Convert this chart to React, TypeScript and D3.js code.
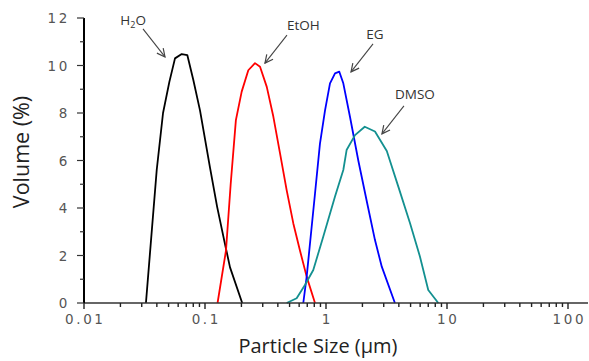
import * as d3 from "d3";

const h2oX = [0.0325, 0.0399, 0.045, 0.0507, 0.0565, 0.0642, 0.0714, 0.08, 0.091, 0.11, 0.126, 0.146, 0.161, 0.203];
const h2oY = [0, 5.6, 8.0, 9.3, 10.3, 10.48, 10.44, 9.4, 8.1, 5.7, 4.05, 2.5, 1.5, 0];

const etohX = [0.127, 0.149, 0.163, 0.18, 0.201, 0.228, 0.259, 0.285, 0.324, 0.367, 0.417, 0.473, 0.537, 0.61, 0.693, 0.811];
const etohY = [0, 2.2, 5.0, 7.7, 8.9, 9.8, 10.1, 9.95, 9.1, 7.85, 6.3, 4.75, 3.35, 2.2, 1.1, 0];

const egX = [0.649, 0.692, 0.761, 0.811, 0.891, 0.981, 1.079, 1.187, 1.288, 1.39, 1.578, 1.849, 2.19, 2.54, 2.89, 3.71];
const egY = [0, 1.1, 3.2, 4.6, 6.7, 8.1, 9.25, 9.67, 9.74, 9.25, 7.84, 6.0, 4.2, 2.65, 1.53, 0];

const dmsoX = [0.473, 0.572, 0.67, 0.785, 0.95, 1.187, 1.39, 1.48, 1.737, 2.09, 2.54, 3.18, 3.96, 4.95, 5.98, 7.0, 8.47];
const dmsoY = [0, 0.2, 0.76, 1.39, 2.8, 4.48, 5.6, 6.44, 7.07, 7.42, 7.22, 6.4, 4.9, 3.36, 1.95, 0.55, 0];

const series = [
  { name: "H2O", xs: h2oX, ys: h2oY, color: "#000000" },
  { name: "EtOH", xs: etohX, ys: etohY, color: "#ff0000" },
  { name: "EG", xs: egX, ys: egY, color: "#0000ff" },
  { name: "DMSO", xs: dmsoX, ys: dmsoY, color: "#139090" },
];

// annotation arrows: tip position in data units
const annLabels = ["H2O", "EtOH", "EG", "DMSO"];
const annTipX = [0.0467, 0.313, 1.61, 2.9];
const annTipY = [10.36, 10.1, 9.73, 7.12];

const xMajor = [0.01, 0.1, 1, 10, 100];
const xTickLabels = ["0.01", "0.1", "1", "10", "100"];
const yMajor = [0, 2, 4, 6, 8, 10, 12];

export default function App() {
  const width = 589;
  const height = 361;
  const left = 84;
  const bottom = 303;

  const x = d3.scaleLog().domain([0.01, 100]).range([left, 568]);
  const y = d3.scaleLinear().domain([0, 12]).range([bottom, 18]);

  const line = d3
    .line<[number, number]>()
    .x((d) => x(d[0]))
    .y((d) => y(d[1]));

  const xMinor: number[] = [];
  for (let e = -2; e < 2; e++) {
    for (let m = 2; m <= 9; m++) xMinor.push(m * Math.pow(10, e));
  }
  const yMinor = d3.range(1, 12, 2);

  const tickFont = {
    fontFamily: "'DejaVu Sans', sans-serif",
    fontSize: 13.5,
    fill: "#555",
    letterSpacing: 2.6,
  };

  const textOffsets = [
    { dx: 3, dy: -4, anchor: "end" },
    { dx: 0, dy: -5, anchor: "start" },
    { dx: 2, dy: -5, anchor: "middle" },
    { dx: 11, dy: -7, anchor: "middle" },
  ];
  const startDx = [-22, 22, 22, 22];

  return (
    <svg
      width={width}
      height={height}
      style={{ position: "absolute", left: 0, top: 0, background: "#fff" }}
    >
      <defs>
        <marker
          id="arr"
          viewBox="0 0 10 10"
          refX="9"
          refY="5"
          markerWidth="10"
          markerHeight="10"
          orient="auto"
          markerUnits="userSpaceOnUse"
        >
          <path d="M1,1 L9,5 L1,9" fill="none" stroke="#444" strokeWidth="1.2" />
        </marker>
      </defs>

      {/* data lines */}
      {series.map((s) => (
        <path
          key={s.name}
          d={line(s.xs.map((v, i) => [v, s.ys[i]] as [number, number])) || undefined}
          fill="none"
          stroke={s.color}
          strokeWidth={1.8}
          strokeLinejoin="round"
        />
      ))}

      {/* x axis */}
      <line x1={left} x2={588} y1={bottom} y2={bottom} stroke="#333" strokeWidth={1.4} />
      {xMajor.map((v) => (
        <line key={"xM" + v} x1={x(v)} x2={x(v)} y1={bottom} y2={bottom + 6} stroke="#222" strokeWidth={1.4} />
      ))}
      {xMinor.map((v) => (
        <line key={"xm" + v} x1={x(v)} x2={x(v)} y1={bottom} y2={bottom + 4} stroke="#222" strokeWidth={1.4} />
      ))}
      {xMajor.map((v, i) => (
        <text key={"xl" + v} x={x(v) + 1.3} y={bottom + 21} textAnchor="middle" {...tickFont}>
          {xTickLabels[i]}
        </text>
      ))}

      {/* y axis */}
      <line x1={left} x2={left} y1={y(12)} y2={bottom} stroke="#000" strokeWidth={2} />
      {yMajor.map((v) => (
        <line key={"yM" + v} x1={left - 7} x2={left} y1={y(v)} y2={y(v)} stroke="#333" strokeWidth={1.2} />
      ))}
      {yMinor.map((v) => (
        <line key={"ym" + v} x1={left - 4} x2={left} y1={y(v)} y2={y(v)} stroke="#333" strokeWidth={1.2} />
      ))}
      {yMajor.map((v) => (
        <text key={"yl" + v} x={left - 14} y={y(v) + 5} textAnchor="end" {...tickFont}>
          {v}
        </text>
      ))}

      {/* axis titles */}
      <text
        transform={`translate(29,${152}) rotate(-90)`}
        textAnchor="middle"
        fontFamily="'Open Sans', 'Noto Sans', sans-serif"
        fontSize={21.5}
        fill="#222"
      >
        Volume (%)
      </text>
      <text
        x={318}
        y={353}
        textAnchor="middle"
        fontFamily="'Open Sans', 'Noto Sans', sans-serif"
        fontSize={20}
        fill="#222"
      >
        Particle Size (μm)
      </text>

      {/* annotations */}
      {annLabels.map((lab, i) => {
        const tx = x(annTipX[i]);
        const ty = y(annTipY[i]);
        const sx = tx + startDx[i];
        const sy = ty - 28;
        const o = textOffsets[i];
        return (
          <g key={lab}>
            <line x1={sx} y1={sy} x2={tx} y2={ty} stroke="#444" strokeWidth={1.1} markerEnd="url(#arr)" />
            <text
              x={sx + o.dx}
              y={sy + o.dy}
              textAnchor={o.anchor}
              fontFamily="'Open Sans', 'Noto Sans', sans-serif"
              fontSize={13.5}
              fill="#333"
            >
              {lab === "H2O" ? (
                <>
                  H<tspan fontSize={9} dy={3}>2</tspan>
                  <tspan dy={-3}>O</tspan>
                </>
              ) : (
                lab
              )}
            </text>
          </g>
        );
      })}
    </svg>
  );
}
